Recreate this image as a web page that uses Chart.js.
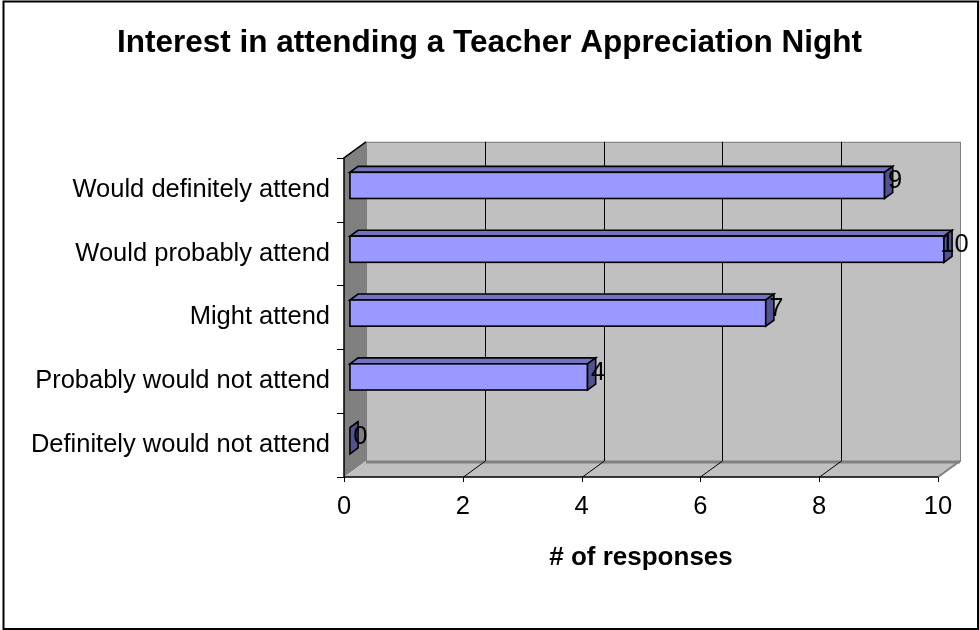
<!DOCTYPE html>
<html>
<head>
<meta charset="utf-8">
<title>Interest in attending a Teacher Appreciation Night</title>
<script src="https://cdn.jsdelivr.net/npm/chart.js@4.4.1/dist/chart.umd.min.js"></script>
<style>
    body { margin: 0; background: #fff; }
    #wrap { width: 979px; height: 630px; position: relative; }
</style>
</head>
<body>
<div id="wrap"><canvas id="myChart"></canvas></div>
<script>
var categories = ["Would definitely attend", "Would probably attend", "Might attend", "Probably would not attend", "Definitely would not attend"]
var responses = [9, 10, 7, 4, 0]
var xTicks = [0, 2, 4, 6, 8, 10]

var FONT = "Arial, 'Liberation Sans', sans-serif"
var depth = { dx: 22, dy: -16 }      // depth of the 3d box
var barFront = 0.27, barBack = 0.64  // where the bars sit inside the box

var box3d = {
    id: "box3d",
    afterDatasetsDraw: function(chart) {
        var ctx = chart.ctx
        var xs = chart.scales.x
        var area = chart.chartArea
        var L = xs.getPixelForValue(0), R = xs.getPixelForValue(10)
        var T = area.top, B = area.bottom
        var dx = depth.dx, dy = depth.dy

        ctx.save()
        ctx.lineJoin = "miter"

        // back wall
        ctx.fillStyle = "#c0c0c0"
        ctx.fillRect(L + dx, T + dy, R - L, B - T)
        ctx.strokeStyle = "#808080"
        ctx.lineWidth = 1
        ctx.strokeRect(L + dx + 0.5, T + dy + 0.5, R - L, B - T)

        // left wall
        ctx.fillStyle = "#808080"
        ctx.beginPath()
        ctx.moveTo(L, T); ctx.lineTo(L + dx, T + dy); ctx.lineTo(L + dx, B + dy); ctx.lineTo(L, B)
        ctx.closePath(); ctx.fill()

        // floor
        ctx.fillStyle = "#c0c0c0"
        ctx.beginPath()
        ctx.moveTo(L, B); ctx.lineTo(R, B); ctx.lineTo(R + dx, B + dy); ctx.lineTo(L + dx, B + dy)
        ctx.closePath(); ctx.fill()
        ctx.strokeStyle = "#808080"
        ctx.lineWidth = 3
        ctx.beginPath(); ctx.moveTo(L + dx, B + dy + 1); ctx.lineTo(R + dx, B + dy + 1); ctx.stroke()
        ctx.lineWidth = 2
        ctx.beginPath(); ctx.moveTo(R, B); ctx.lineTo(R + dx, B + dy); ctx.stroke()

        // gridlines on the wall and floor
        ctx.strokeStyle = "#000"
        ctx.lineWidth = 1
        xTicks.forEach(function(v) {
            if (v == 0 || v == 10) return
            var x = Math.round(xs.getPixelForValue(v)) + 0.5
            ctx.beginPath()
            ctx.moveTo(x + dx, T + dy); ctx.lineTo(x + dx, B + dy)
            ctx.moveTo(x, B); ctx.lineTo(x + dx, B + dy)
            ctx.stroke()
        })

        // axes
        ctx.lineWidth = 1.5
        ctx.beginPath()
        ctx.moveTo(L + dx, T + dy); ctx.lineTo(L, T); ctx.lineTo(L, B); ctx.lineTo(R, B)
        ctx.stroke()
        ctx.lineWidth = 1
        var band = (B - T) / categories.length
        for (var i = 0; i <= categories.length; i++) {
            var y = Math.round(T + i * band) + 0.5
            ctx.beginPath(); ctx.moveTo(L - 7, y); ctx.lineTo(L, y); ctx.stroke()
        }
        xTicks.forEach(function(v) {
            var x = Math.round(xs.getPixelForValue(v)) + 0.5
            ctx.beginPath(); ctx.moveTo(x, B); ctx.lineTo(x, B + 5); ctx.stroke()
        })

        // 3d bars
        var meta = chart.getDatasetMeta(0)
        var fx = dx * barFront, fy = dy * barFront
        var bx = dx * (barBack - barFront), by = dy * (barBack - barFront)
        ctx.lineWidth = 1.6
        ctx.strokeStyle = "#000"
        meta.data.forEach(function(el, i) {
            var x0 = el.base + fx, x1 = el.x + fx
            var y0 = el.y - el.height / 2 + fy, y1 = el.y + el.height / 2 + fy

            // top face
            ctx.fillStyle = "#7373bf"
            ctx.beginPath()
            ctx.moveTo(x0, y0); ctx.lineTo(x1, y0); ctx.lineTo(x1 + bx, y0 + by); ctx.lineTo(x0 + bx, y0 + by)
            ctx.closePath(); ctx.fill(); ctx.stroke()

            // front face
            if (x1 > x0) {
                ctx.fillStyle = "#9999ff"
                ctx.fillRect(x0, y0, x1 - x0, y1 - y0)
                ctx.strokeRect(x0, y0, x1 - x0, y1 - y0)
            }

            // end face
            ctx.fillStyle = "#52528f"
            ctx.beginPath()
            ctx.moveTo(x1, y0); ctx.lineTo(x1 + bx, y0 + by); ctx.lineTo(x1 + bx, y1 + by); ctx.lineTo(x1, y1)
            ctx.closePath(); ctx.fill(); ctx.stroke()

            // value label
            ctx.fillStyle = "#000"
            ctx.font = "25.5px " + FONT
            ctx.textAlign = "center"
            ctx.textBaseline = "middle"
            ctx.fillText(String(responses[i]), x1 + 10.5, el.y - 8.5)
        })

        ctx.restore()
    },
    afterDraw: function(chart) {
        var ctx = chart.ctx
        ctx.save()
        ctx.strokeStyle = "#000"
        ctx.lineWidth = 2
        ctx.strokeRect(3.5, 1.5, 974.5, 627.5)
        ctx.restore()
    }
}

var myChart = document.getElementById("myChart").getContext("2d")

var chart = new Chart(myChart, {
    type: "bar",
    data: {
        labels: categories,
        datasets: [{
            label: "# of responses",
            data: responses,
            xAxisID: "x",
            yAxisID: "y",
            backgroundColor: "rgba(0,0,0,0)",
            borderWidth: 0,
            categoryPercentage: 1,
            barPercentage: 0.41
        }]
    },
    options: {
        indexAxis: "y",
        responsive: true,
        maintainAspectRatio: false,
        animation: false,
        layout: { padding: 0 },
        plugins: {
            legend: { display: false },
            tooltip: { enabled: false },
            title: {
                display: true,
                text: "Interest in attending a Teacher Appreciation Night",
                color: "#000",
                font: { family: FONT, size: 31.5, weight: "bold" },
                padding: { top: 24, bottom: 96 }
            }
        },
        scales: {
            x: {
                min: 0,
                max: 10,
                ticks: {
                    stepSize: 2,
                    color: "#000",
                    padding: 7,
                    font: { family: FONT, size: 25.5 }
                },
                grid: { display: false },
                border: { display: false },
                title: {
                    display: true,
                    text: "# of responses",
                    color: "#000",
                    font: { family: FONT, size: 26, weight: "bold" },
                    padding: { top: 0, bottom: 57 }
                },
                afterFit: function(scale) { scale.height = 153 }
            },
            y: {
                position: "left",
                ticks: {
                    color: "#000",
                    padding: 6,
                    font: { family: FONT, size: 25.5 }
                },
                grid: { display: false },
                border: { display: false },
                afterFit: function(scale) { scale.width = 344 }
            },
            // empty right margin so the title centres on the whole frame
            yRight: {
                type: "category",
                position: "right",
                ticks: { display: false },
                grid: { display: false },
                border: { display: false },
                afterFit: function(scale) { scale.width = 41 }
            }
        }
    },
    plugins: [box3d]
})
</script>
</body>
</html>
